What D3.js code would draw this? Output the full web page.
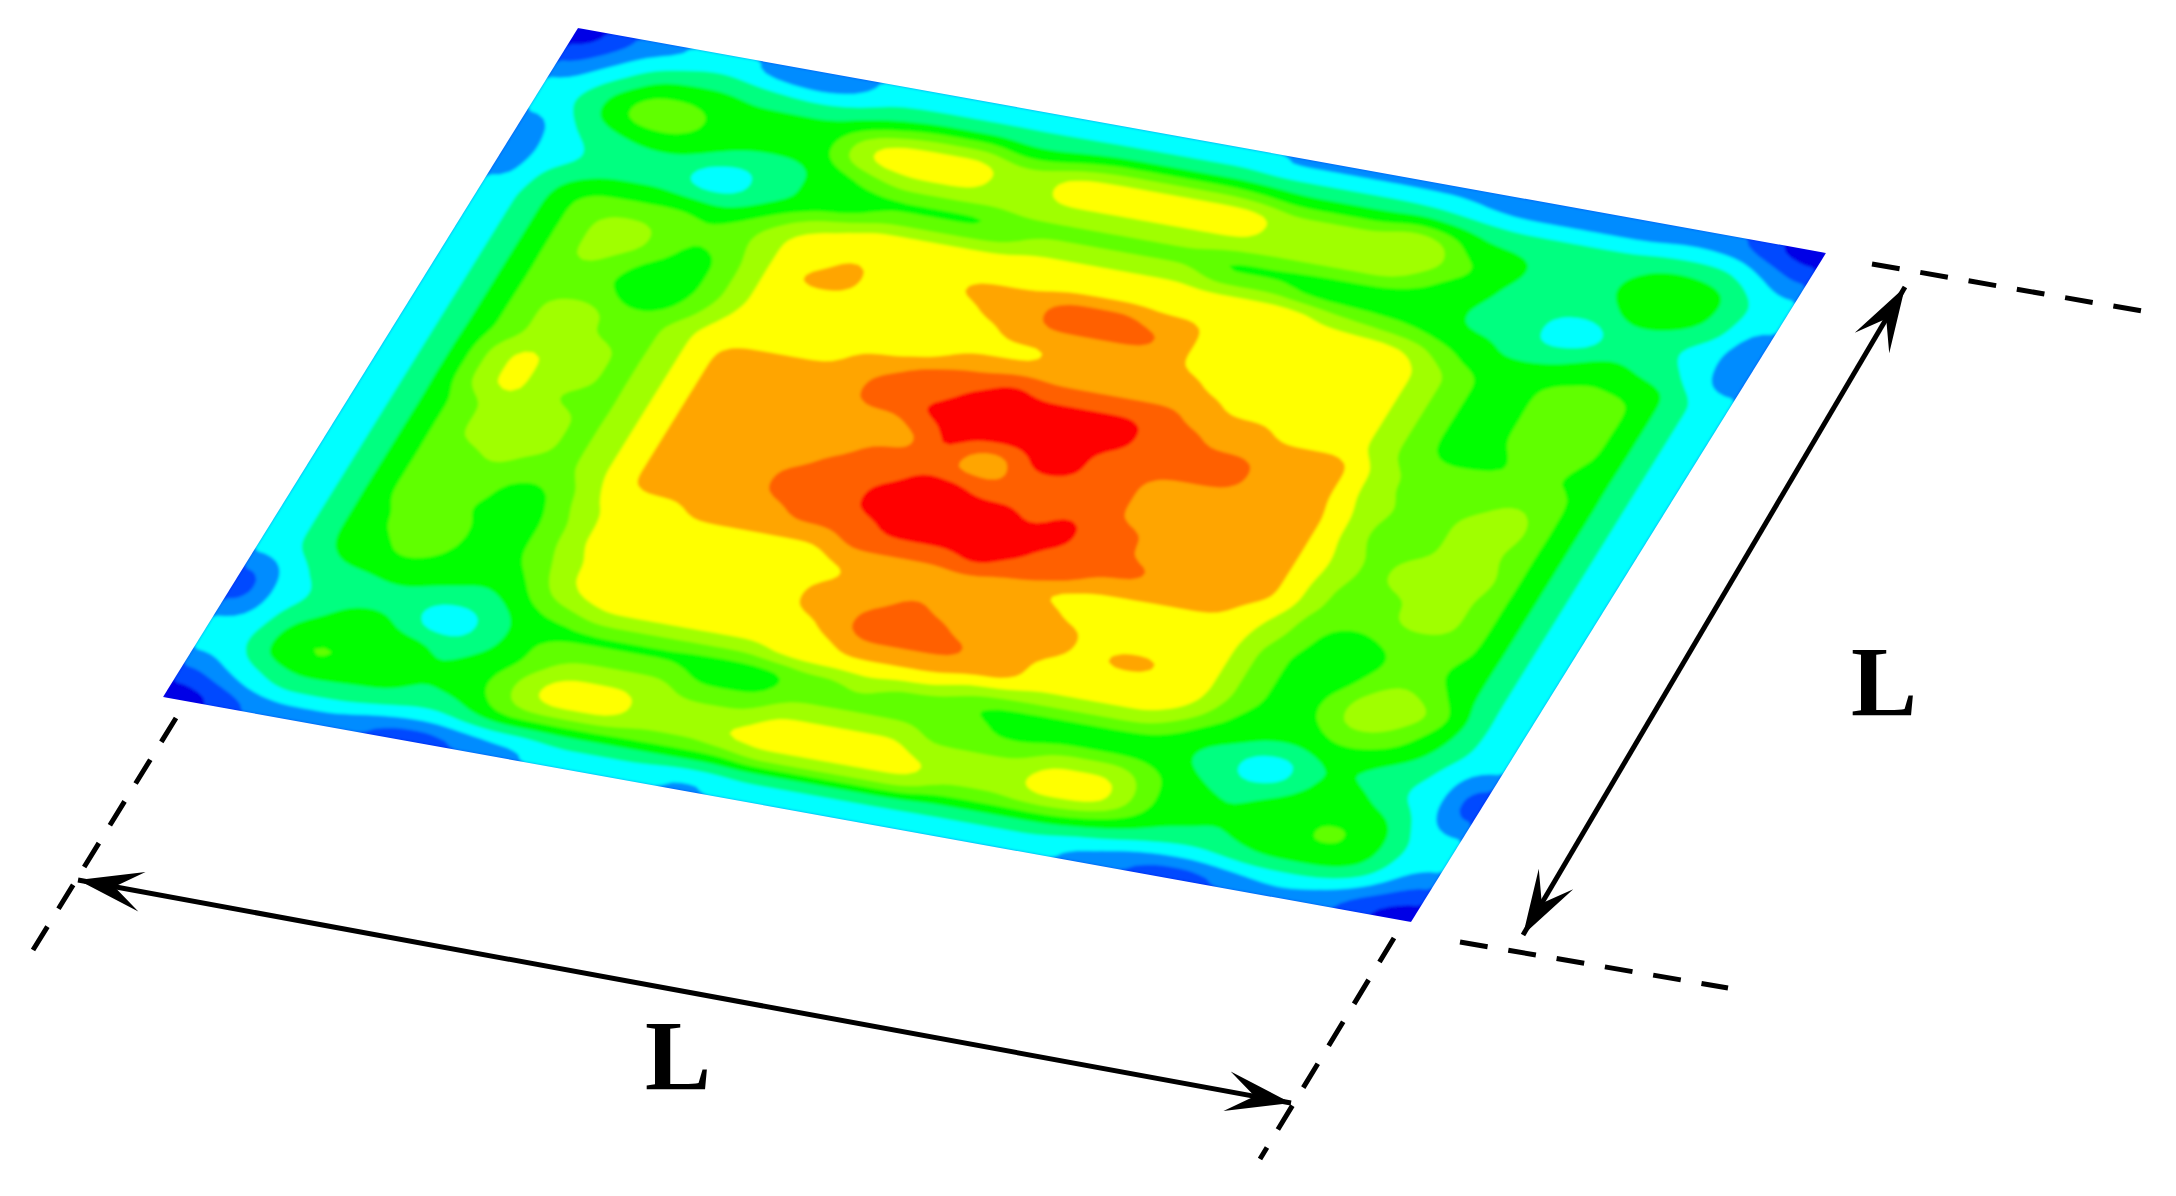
<!DOCTYPE html>
<html>
<head>
<meta charset="utf-8">
<script src="https://cdn.jsdelivr.net/npm/d3@7"></script>
<style>html,body{margin:0;padding:0;background:#fff;overflow:hidden}svg{display:block}</style>
</head>
<body>
<svg id="chart" width="2176" height="1196"></svg>
<script>
// Colour level read for every cell of the sheet (rows run from the far edge to the near edge)
const cellLevels = [
[0,1,2,2.3,3,3,2,1.5,1.5,2, 3,3,3,3,3,3,3,3,3,3, 3,3,3,2.3,2.3,2.3,2.3,2.3,2.3,2.3,2, 1.5,1.5,1.5,1.5,1.5,2,2,1.5,0.5,0],
[1,2,3,3.6,3.8,3.8,3.6,3.3,3,3.2, 3.6,3.8,3.8,3.8,3.8,3.8,3.8,3.8,3.8,3.8, 3.8,3.8,3.8,3.8,3.8,3.8,3.8,3.8,3.6,3.3,3, 3,3,3,3,3,3,3,3,2,1],
[2,3,3.8,5,5,5,4.5,4.5,4.5,4.5, 5,5.5,6,6,6,5,5,5.5,6,6, 6,6,6,5.5,5,5,5,5,5.5,5,4.5, 4,4,4,4,4,4.5,4.5,4,3,2],
[3,3.6,5,6,6,5.5,5,5,5,5, 7,8,8,8,8,7,7,8,8,8, 8,8,8,8,7,7,7,7,8,7,5, 5,4.5,4,4,4.5,5,5,5,3.6,3],
[3,3.6,5,6,6,5.5,5,5,5,5, 7,8,8,8,8,7,7,8,8,8, 8,8,8,8,7,7,7,7,7.5,7,6, 5,4.5,4,4,4.5,5,5.6,5,3.6,3],
[2,3.3,4,4.5,5,5,4.5,4,4,4.5, 5,6,7,7,7,7,7,7,7,7, 7,7,7,7,7,7,7,7,7,6,5, 5,4,4,4,4,5,5,4.5,3.6,2],
[2,3,3.5,4,4,4,3,3,4,4.5, 5,5,5,5,5,5,6,6,6,6, 6,6,6,5,5,5,5,5,5,5,5, 4.5,4,4,3,3,4,4,3.5,3,1.5],
[2,3,3.5,4,4,4,3,3,4,4.5, 5,5,6,6,6,6,6,7,7,7, 7,7,7,6,6,6,5,5,5,5,5, 4.5,4,4,3,3,4,4,3.5,3,1.5],
[2,3.6,4.5,5,5,5,5,4.5,5,6, 7,7.5,8,8,8,8,8,8,8,8, 8,8,8,8,8,8,8,7,6.5,6,5.5, 5,5,4,4,4.5,5,4.5,4,3,2],
[3,3.6,5,6,6,6,6,5.5,6,7, 8,8,8,8,8,8,8,8,8,8, 8,8,8,8,8,8,8,8,8,8,7.5, 6,5,5,5,5,5.5,5,5,3.6,3],
[3,3.6,5,6,7,7,6,5.5,6,7, 8,8,9,8,8,8,9,9,9,10, 10,10,9,9,8,8,8,8,8,8,8, 7,6,5,5,6,6,6,5,3.6,3],
[3,3.6,5,6,7,7,6,5,5.5,7, 8,9,9,8,8,8,8,9,9,10, 10,10,10,9,8,8,8,8,8,8,8, 7,6,5,5,6,7,6,5,3.6,3],
[3,3.6,5,6,7,6,5,5,5.5,7, 8,8,8,8,8,8,8,8,9,9, 9,9,9,9,8,8,8,8,8,8,8, 7,6,5,5,6,6,6,5,3.6,3],
[3,3.6,5,6,6,5.5,5,5,5.5,7, 8,8,8,8,8,8,8,8,8,8, 9,9,9,9,9,8,8,8,8,8,8, 7,6,5,5,6,6,6,5,3.6,3],
[3,3.6,5,6,6,6,5,5,6,7.5, 8,8,8,8,8,8,8,9,9,9, 9,9,9,9,9,9,8,8,8,8,8, 7,6,5,5,5.5,6,5.5,5,3.6,3],
[3,3.6,5,6,7,7,6,6,7,8, 8,8,8,8,9,9,10,10,10,11, 10,10,10,10,10,9,9,9,8,8,8, 7,6,5.5,5.5,5.5,5.5,5.5,5,3.6,3],
[3,3.6,5,6,7,7,6,6,7,8, 9,9,9,9,9,10,10,10,11,11, 11,11,11,11,10,10,9,9,9,9,9, 7.5,6.5,6,6,6,6,6,5,3.6,3],
[3,3.6,5,6,7,7,7,6,7,8, 9,9,9,9,9,10,10,11,11,11, 11,11,11,11,10,10,10,10,9,9,9, 7.5,6.5,6,6,6,7,6,5,3.6,3],
[3,3.6,5,7,8,7,7,6,7,8, 9,9,9,9,9,9,9,10,11,11, 11,11,11,10,10,10,10,10,9,9,9, 7.5,7,6,6,7,8,6,5,3.6,3],
[3,3.6,5,7,8,7,7,6,7,8, 9,9,9,9,9,9,9,9,11,9, 9,11,11,10,10,9,9,9,9,9,9, 8,6.5,6,6,7,7,6,5,3.6,3],
[3,3.6,5,7,8,7,6,6,7,8, 9,9,9,9,9,9,10,10,10,9, 9,10,10,10,10,9,9,9,9,9,9, 8,6.5,6,6,7,7,6,5,3.6,3],
[3,3.6,5,6,7,7,7,6,7,8, 9,9,9,9,9,10,10,10,11,11, 10,10,10,10,10,9,9,9,9,9,9, 8,7,6,7,7,8,6,5,3.6,3],
[3,3.6,5,6,7,7,7,6,7,8, 9,9,9,9,10,10,10,11,11,11, 11,11,10,11,10,10,9,9,9,9,9, 8,7,6,7,7,7,6,5,3.6,3],
[3,3.6,5,6,7,7,7,6,7,8, 9,9,9,9,10,10,10,11,11,11, 11,11,11,11,10,10,9,9,9,9,9, 8,6.5,6,6,7,7,6,5,3.6,3],
[3,3.6,5,6,6,7,6,6,7,8, 9,9,9,9,9,10,10,10,11,11, 11,11,11,10,10,10,10,9,9,9,9, 8,6.5,6,6,7,7,6,5,3.6,3],
[3,3.6,5,6,6,6,5.5,5.5,6.5,8, 8,8,9,9,9,9,9,10,10,10, 10,11,10,10,10,9,9,9,9,9,8, 7.5,6,5.5,5.5,6,6,6,5,3.6,3],
[3,3.6,5,6,6,6,5,5,6.5,7.5, 8,8,8,8,8,8,8,9,9,9, 9,9,9,9,8,8,8,8,8,8,8, 7,6,5,5,5.5,6,5.5,5,3.6,3],
[3,3.6,5,6,6,5.5,5,5,6,7.5, 8,8,8,8,8,8,8,8,9,9, 9,9,9,9,9,8,8,8,8,8,8, 6.5,5.5,5,5,5.5,6,5.5,5,3.6,3],
[3,3.6,5,5.5,6.5,6,5,5,6,7.5, 8,8,8,8,8,8,8,9,9,9, 10,9,9,9,9,9,8,8,8,8,8, 6.5,5.5,5,5,6,7,6,5,3.6,3],
[3,3.6,5,5.5,6,6,5,5,6,7, 8,8,8,8,8,8,8,9,9,10, 10,10,9,9,9,9,8,9,9,8,8, 6.5,5.5,5,5.5,7,8,7,5.5,3.6,3],
[3,3.6,5,5,6,5.5,5,5,5.5,7, 8,8,8,8,8,8,8,8,9,10, 10,10,10,9,9,8,8,8,8,8,8, 6.5,5.5,5,5.5,7,7,6,5,3.6,3],
[3,3.6,4.5,5,5,5,5,4.5,5,6.5, 7.5,8,8,8,8,8,8,8,8,9, 9,9,9,9,9,8,8,8,8,8,7.5, 6,5,5,5,6,6,5.5,4.5,3.5,3],
[2,3,4,4,4.5,4.5,4,4,4.5,5.5, 6,7,7,7,7,7,7,8,8,8, 8,8,8,7,7,7,7,7,7,7,6, 5,5,4.5,4.5,5,5,4.5,4,3,2],
[1,3,3.5,4,4,4,3,3,4,5, 5,5,5,5,5,5,5,5,6,6, 7,6,6,6,5,5,5,5,5,5,5, 4.5,4,3,3,4.5,4.5,4,3.5,3,1],
[1,3,3.5,4.5,5,4.5,3,3,4,5, 6,6,6,6,6,5,5,5,6,6, 6,6,6,6,6,5,5,5,5,5,5, 4.5,4,3,3,4.5,5,4.5,3.5,3,1],
[2,3,4.5,5,5,5,5,4,4.5,5, 6,7,7,7,7,6,6,6,7,7, 7,7,7,6,6,6,6,7,7,7,6, 5,4.5,4,4.5,5,5,5,4.5,3,2],
[3,3.3,5,5.6,5.5,5,5,4.5,5,5.5, 7,8,8,8,7,7,7,7,8,8, 8,8,8,7,7,7,7,8,8,8,6.5, 5,5,4.5,5,5,5.6,5.6,5,3.3,3],
[3,3.3,5,5.6,5.5,5,5,4.5,5,5.5, 7,8,8,8,7,7,7,8,8,8, 8,8,8,8,7,7,7,8,8,8,6.5, 5,5,4.5,5,5,5.6,5.6,5,3.3,3],
[2,3,3.6,4.5,4.5,4.5,4.5,4,4,5, 6,6,6,6,6,6,6,6,7,7, 7,7,7,7,6,6,6,6,6,5.5,5, 4.5,4,4,4.5,5,5,5,4.5,3,2],
[1,2,3,3.5,3.5,3.5,3.2,3,3,3.4, 3.6,3.6,3.8,3.8,3.8,3.8,3.8,3.8,3.8,3.8, 3.8,3.8,3.8,3.8,3.8,3.8,3.8,3.8,3.8,3.6,3.4, 3,3,3,3.3,3.5,3.5,3.5,3,2,1],
[0,0.5,1.5,2,2,2,1.5,1,1,1.5, 2,2.3,3,3,3,3,2.3,2.3,3,3, 3,3,3,3,3,3,3,3,3,2.3,2, 1.5,1,1,1.5,2,2.3,2,1.5,0.5,0]
];
const levelBreaks = [-1, 0.5, 1.5, 2.5, 3.5, 4.5, 5.5, 6.5, 7.5, 8.5, 9.5, 10.5];
const levelColors = ["#0000e6","#0048ff","#008cff","#00ffff","#00ff80","#00ff00","#60ff00","#a0ff00","#ffff00","#ffa500","#ff6000","#ff0000"];
const sideLabels = ["L","L"];

const svg = d3.select("#chart");
const defs = svg.append("defs");
defs.append("filter").attr("id","soft").attr("x","-5%").attr("y","-5%").attr("width","110%").attr("height","110%")
  .append("feGaussianBlur").attr("stdDeviation",1.6);

// Sheet corners on the page
const nCols = cellLevels[0].length, nRows = cellLevels.length, k = 4;
const sheet = {x0:578, y0:28, ux:1248, uy:225, vx:-415, vy:669};
const uScale = d3.scaleLinear().domain([0, nCols*k]).range([0,1]);
const vScale = d3.scaleLinear().domain([0, nRows*k]).range([0,1]);

// Resample the read levels on a finer mesh so contour edges are not stair-stepped
const w = nCols*k, h = nRows*k;
const fine = new Float64Array(w*h);
for (let j=0;j<h;j++){
  const sy = Math.min(nRows-1, Math.max(0,(j+.5)/k-.5)), y0=Math.floor(sy), y1=Math.min(nRows-1,y0+1), fy=sy-y0;
  for (let i=0;i<w;i++){
    const sx = Math.min(nCols-1, Math.max(0,(i+.5)/k-.5)), x0=Math.floor(sx), x1=Math.min(nCols-1,x0+1), fx=sx-x0;
    fine[j*w+i] = (1-fy)*((1-fx)*cellLevels[y0][x0]+fx*cellLevels[y0][x1]) + fy*((1-fx)*cellLevels[y1][x0]+fx*cellLevels[y1][x1]);
  }
}
d3.blur2({data:fine,width:w,height:h},1);

const project = d3.geoTransform({point(x,y){
  const u=uScale(x), v=vScale(y);
  this.stream.point(sheet.x0+u*sheet.ux+v*sheet.vx, sheet.y0+u*sheet.uy+v*sheet.vy);
}});
const path = d3.geoPath(project);
const contours = d3.contours().size([w,h]).smooth(true).thresholds(levelBreaks)(fine);
const color = d3.scaleOrdinal().domain(levelBreaks).range(levelColors);

// The blur softens colour edges but the sheet's outline stays crisp through this clip
const clipCorners = [[0,0],[1,0],[1,1],[0,1]].map(([u,v])=>[sheet.x0+u*sheet.ux+v*sheet.vx, sheet.y0+u*sheet.uy+v*sheet.vy]);
defs.append("clipPath").attr("id","sheetClip").append("polygon").attr("points",clipCorners.map(p=>p.join(",")).join(" "));

svg.append("g").attr("clip-path","url(#sheetClip)").append("g").attr("filter","url(#soft)")
  .selectAll("path").data(contours).join("path")
  .attr("d",path).attr("fill",d=>color(d.value)).attr("stroke",d=>color(d.value)).attr("stroke-width",d=>d.value<0?6:0.6);

// Guide lines
const guides = [
  [[1872,264],[2142,311]],
  [[1460,942],[1728,988]],
  [[1394,938],[1260,1159]],
  [[176,718],[33,950]]
];
svg.append("g").selectAll("line").data(guides).join("line")
  .attr("x1",d=>d[0][0]).attr("y1",d=>d[0][1]).attr("x2",d=>d[1][0]).attr("y2",d=>d[1][1])
  .attr("stroke","#000").attr("stroke-width",5).attr("stroke-dasharray","28 21");

// Double-headed dimension arrows
const arrows = [
  [[1905,287],[1523,935]],
  [[78,880],[1291,1103]]
];
const head = "M0,0L-65,-20L-37,0L-65,20Z";
const ag = svg.append("g");
arrows.forEach(([a,b])=>{
  ag.append("line").attr("x1",a[0]).attr("y1",a[1]).attr("x2",b[0]).attr("y2",b[1])
    .attr("stroke","#000").attr("stroke-width",5);
  const ang = Math.atan2(b[1]-a[1],b[0]-a[0])*180/Math.PI;
  ag.append("path").attr("d",head).attr("fill","#000").attr("transform",`translate(${b[0]},${b[1]}) rotate(${ang})`);
  ag.append("path").attr("d",head).attr("fill","#000").attr("transform",`translate(${a[0]},${a[1]}) rotate(${ang+180})`);
});

// Side labels
svg.append("g").selectAll("text").data(sideLabels).join("text")
  .attr("x",(d,i)=>[1851,645][i]).attr("y",(d,i)=>[715,1089][i])
  .attr("font-family","'Liberation Serif',serif").attr("font-weight","bold").attr("font-size",99)
  .attr("fill","#000").text(d=>d);
</script>
</body>
</html>
